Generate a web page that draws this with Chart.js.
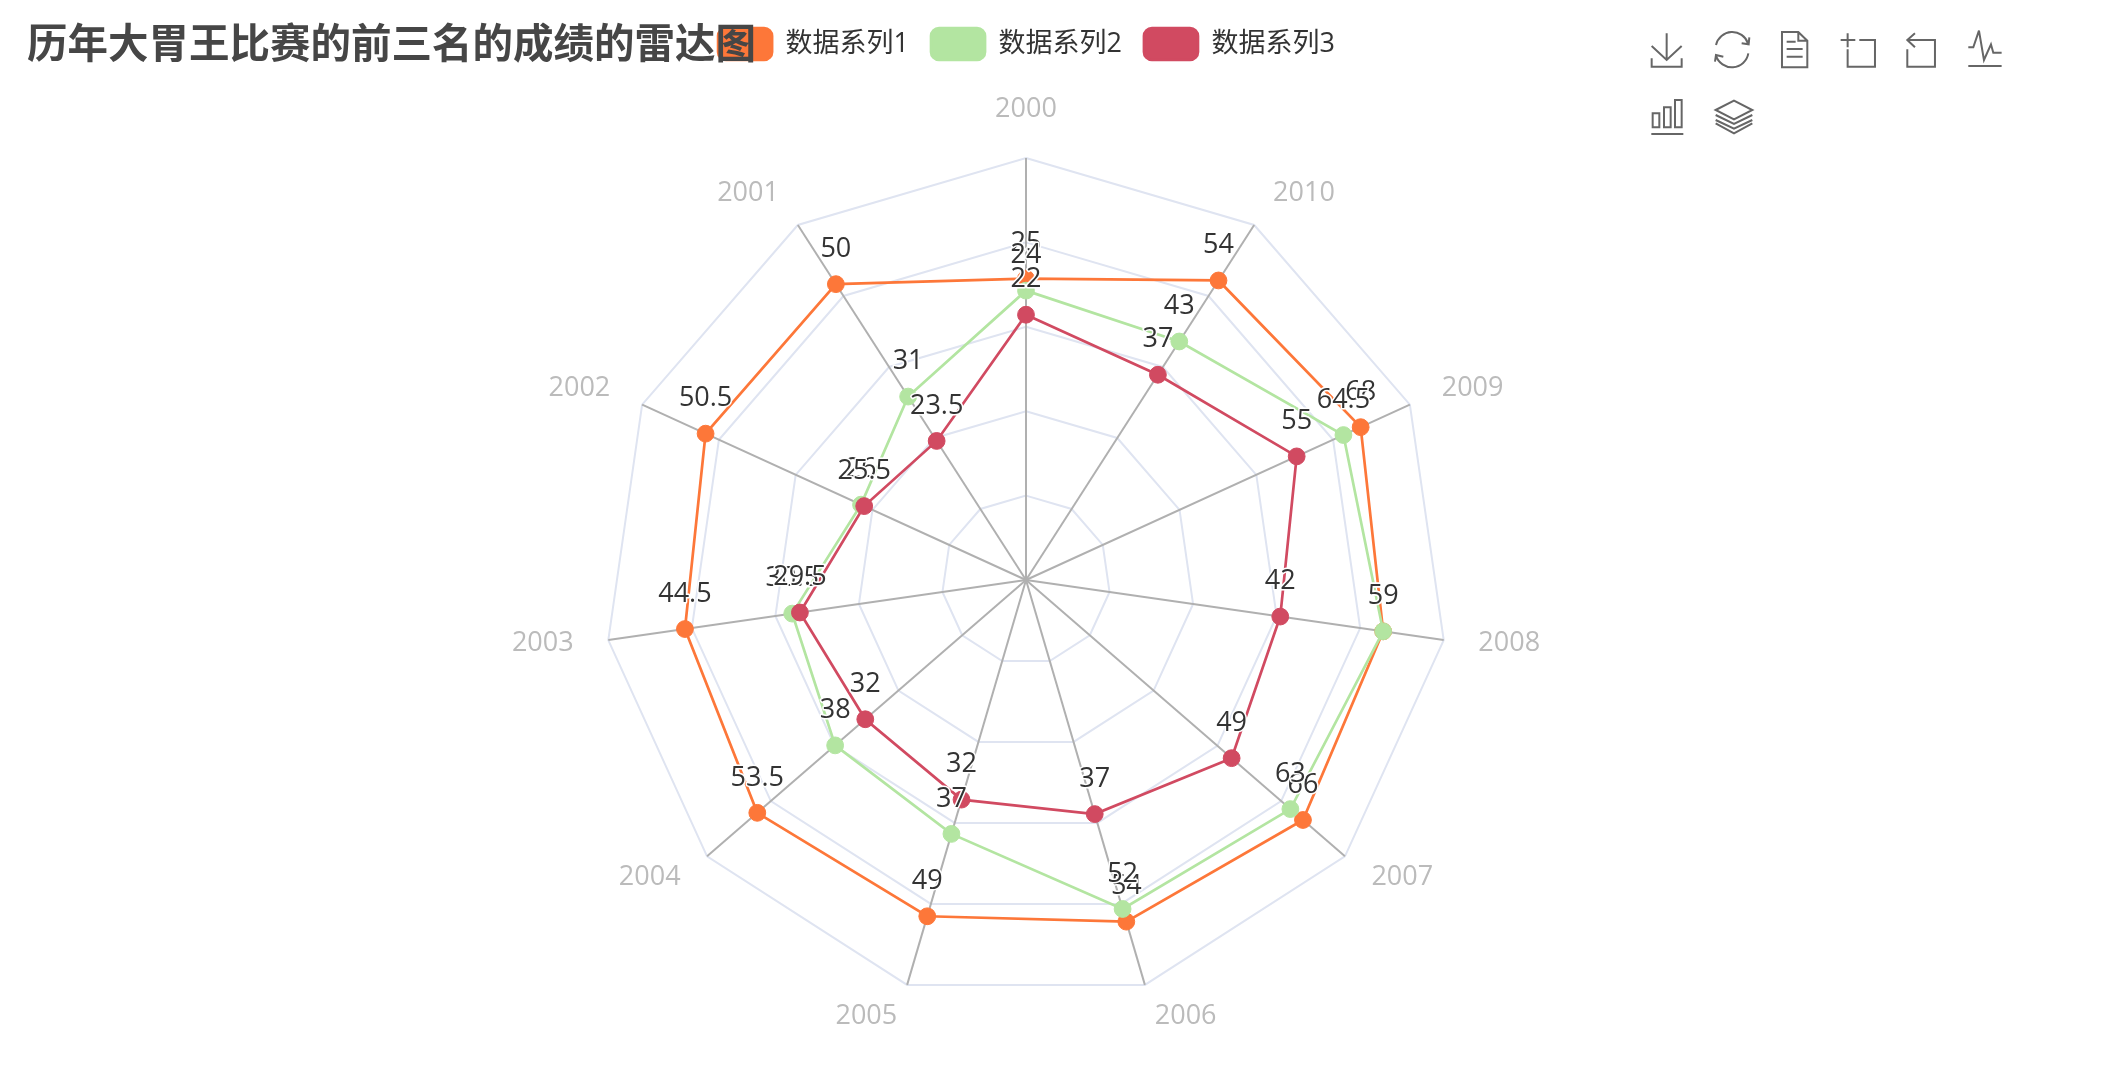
<!DOCTYPE html>
<html>
<head>
<meta charset="utf-8">
<title>radar</title>
<script src="https://cdn.jsdelivr.net/npm/chart.js@4"></script>
<style>
  html, body { margin: 0; padding: 0; background: #fff; overflow: hidden; }
  #wrap { position: relative; width: 2053px; height: 1088px; }
  #toolbox { position: absolute; left: 0; top: 0; pointer-events: none; }
</style>
</head>
<body>
<div id="wrap">
  <canvas id="radar" width="2053" height="1088"></canvas>
  <!-- toolbox icons, not data -->
  <svg id="toolbox" width="2102" height="1088" fill="none" stroke="#666" stroke-width="6">
    <g transform="translate(1620,10) scale(0.3333)">
      <path d="M140 70V150M95 108L140 150L185 108M95 145V170H185V145"/>
      <path d="M288 105A50 50 0 0 1 384 100M388 82L386 103L365 100M385 130A50 50 0 0 1 288 137M285 155L288 135L310 140"/>
      <path d="M486 66H535L562 92V172H486ZM535 66V92H562M500 95H527M500 117H548M500 140H548"/>
      <path d="M683 118V170H765V90H718M662 90H706M683 70V112"/>
      <path d="M862 118V170H945V90H865M885 70L862 90L885 112"/>
      <path d="M1045 168H1145M1045 112H1060L1077 62L1092 150L1113 103L1120 128H1145"/>
      <path d="M94 372H190M98 310H118V352H98ZM132 292H152V352H132ZM165 270H185V352H165Z"/>
      <path d="M287 300L342 272L397 300L342 328ZM287 315L342 342L397 315M287 330L342 356L397 330M287 340L342 370L397 340"/>
    </g>
  </svg>
</div>
<script>
const years = ['2000','2001','2002','2003','2004','2005','2006','2007','2008','2009','2010'];
// each spoke has its own maximum
const axisMax = [35, 60, 60.5, 54.5, 63.5, 59, 64, 76, 69, 78, 64];
const series1 = [25, 50, 50.5, 44.5, 53.5, 49, 54, 66, 59, 68, 54];
const series2 = [24, 31, 26, 30.5, 38, 37, 52, 63, 59, 64.5, 43];
const series3 = [22, 23.5, 25.5, 29.5, 32, 32, 37, 49, 42, 55, 37];

const seriesNames = ['数据系列1', '数据系列2', '数据系列3'];
const seriesColors = ['#fd7739', '#b3e5a1', '#d14a61'];
const font = '"Open Sans", "Noto Sans CJK SC", sans-serif';

// the years run counter-clockwise, Chart.js goes clockwise
const spokeOrder = list => [list[0], ...list.slice(1).reverse()];

function makeDataset(i, values) {
    const raw = spokeOrder(values);
    const maxes = spokeOrder(axisMax);
    return {
        label: seriesNames[i],
        raw: raw,
        data: raw.map((v, k) => v / maxes[k]),
        order: 3 - i, // later series paint on top
        borderColor: seriesColors[i],
        backgroundColor: seriesColors[i],
        pointBackgroundColor: seriesColors[i],
        pointBorderColor: seriesColors[i],
        borderWidth: 2.7,
        pointRadius: 8.4,
        pointBorderWidth: 1,
        fill: false
    };
}

// year names around the outside, aligned away from the centre
const spokeLabels = {
    id: 'spokeLabels',
    beforeDatasetsDraw(chart) {
        const ctx = chart.ctx;
        const scale = chart.scales.r;
        ctx.save();
        ctx.font = '27px ' + font;
        ctx.fillStyle = '#bbb';
        chart.data.labels.forEach((txt, i) => {
            const pos = scale.getPointPosition(i, scale.drawingArea + 35);
            if (i === 0) {
                ctx.textAlign = 'center';
                ctx.textBaseline = 'bottom';
                ctx.fillText(txt, pos.x, pos.y);
            } else {
                ctx.textAlign = pos.x > scale.xCenter ? 'left' : 'right';
                ctx.textBaseline = 'middle';
                ctx.fillText(txt, pos.x, pos.y - 2);
            }
        });
        ctx.restore();
    }
};

// value labels above each point, with a white halo
const valueLabels = {
    id: 'valueLabels',
    afterDatasetsDraw(chart) {
        const ctx = chart.ctx;
        ctx.save();
        ctx.font = '27px ' + font;
        ctx.textAlign = 'center';
        ctx.textBaseline = 'middle';
        ctx.lineJoin = 'round';
        chart.data.datasets.forEach((ds, i) => {
            chart.getDatasetMeta(i).data.forEach((pt, k) => {
                const txt = String(ds.raw[k]);
                ctx.strokeStyle = '#fff';
                ctx.lineWidth = 3;
                ctx.strokeText(txt, pt.x, pt.y - 35);
                ctx.fillStyle = '#333';
                ctx.fillText(txt, pt.x, pt.y - 35);
            });
        });
        ctx.restore();
    }
};

new Chart(document.querySelector('#radar').getContext('2d'), {
    type: 'radar',
    data: {
        labels: spokeOrder(years),
        datasets: [makeDataset(0, series1), makeDataset(1, series2), makeDataset(2, series3)]
    },
    plugins: [spokeLabels, valueLabels],
    options: {
        responsive: false,
        animation: false,
        layout: { padding: { left: 27, right: 27, top: 6, bottom: 85 } },
        elements: { line: { tension: 0 } },
        scales: {
            r: {
                min: 0,
                max: 1,
                ticks: { display: false, stepSize: 0.2 },
                grid: { color: '#dfe4f1', lineWidth: 2 },
                angleLines: { color: '#b0b0b0', lineWidth: 2 },
                pointLabels: { display: false }
            }
        },
        plugins: {
            tooltip: { enabled: false },
            // title box sits under the legend and holds the room above the radar,
            // its text is pulled back up beside the legend
            title: {
                display: true,
                text: '历年大胃王比赛的前三名的成绩的雷达图',
                align: 'start',
                color: '#464646',
                font: { size: 40.5, weight: 'bold', family: font },
                padding: { top: -48, bottom: 87 }
            },
            legend: {
                weight: 3000,
                labels: {
                    boxWidth: 54,
                    boxHeight: 32,
                    useBorderRadius: true,
                    borderRadius: 8,
                    color: '#333',
                    padding: 22,
                    font: { size: 27, family: font },
                    sort: (a, b) => a.datasetIndex - b.datasetIndex
                }
            }
        }
    }
});
</script>
</body>
</html>
